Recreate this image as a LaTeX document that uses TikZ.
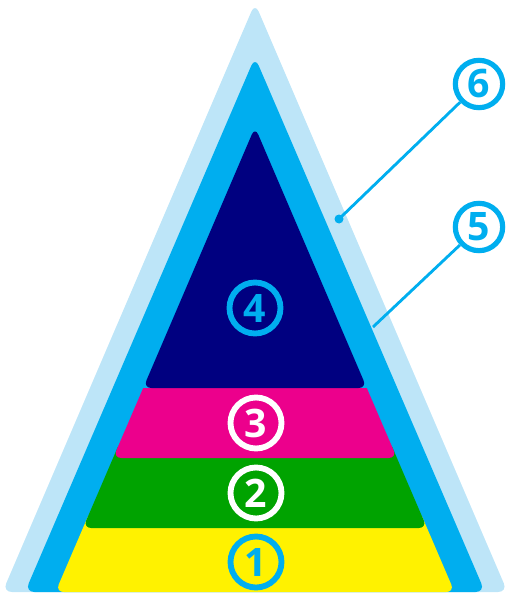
\documentclass[tikz,border=0pt]{standalone}
\usepackage{fontspec}
\setmainfont{Open Sans}
\definecolor{paleblue}{HTML}{BDE5F8}
\definecolor{skyblue}{HTML}{00AEEF}
\definecolor{deepnavy}{HTML}{000080}
\definecolor{hotpink}{HTML}{EC008C}
\definecolor{leafgreen}{HTML}{00A300}
\definecolor{brightyellow}{HTML}{FFF200}
\tikzset{
  numring/.style={circle,draw=#1,text=#1,line width=1.75mm,minimum size=15.3mm,inner sep=0pt,
    font=\fontsize{33.5}{33.5}\selectfont\bfseries},
  callout/.style={numring=skyblue,fill=white,line width=1.55mm,minimum size=14.2mm},
  leader/.style={skyblue,line width=0.85mm}
}
\begin{document}
\begin{tikzpicture}[x=0.03cm,y=-0.03cm]
\useasboundingbox (0,0) rectangle (507,593);
\fill[paleblue,rounded corners=8pt] (255,3) -- (507.5,592) -- (2.5,592) -- cycle;
\fill[skyblue,rounded corners=8pt] (255,57) -- (485,592) -- (25,592) -- cycle;
\fill[brightyellow,rounded corners=7pt] (90.7,510) -- (419.3,510) -- (454.5,592) -- (55.5,592) -- cycle;
\fill[leafgreen,rounded corners=7pt] (120.8,440) -- (389.2,440) -- (427,528) -- (83,528) -- cycle;
\fill[hotpink] (143.2,388) -- (366.8,388) [rounded corners=7pt] -- (396.9,458) -- (113.1,458) [sharp corners] -- cycle;
\fill[deepnavy,rounded corners=7pt] (255,127) -- (366.8,388) -- (143.2,388) -- cycle;
\node[numring=skyblue] (n4) at (255,308) {4};
\node[numring=white] (n3) at (256,423) {3};
\node[numring=white] (n2) at (256,493) {2};
\node[numring=skyblue] (n1) at (256,562) {1};
\node[callout] (n6) at (479,84) {6};
\node[callout] (n5) at (479,227) {5};
\coordinate (p6) at (339,219);
\coordinate (p5) at (373,327);
\draw[leader] (p6) -- (n6);
\draw[leader] (p5) -- (n5);
\fill[skyblue] (p6) circle[radius=1.35mm];
\end{tikzpicture}
\end{document}
